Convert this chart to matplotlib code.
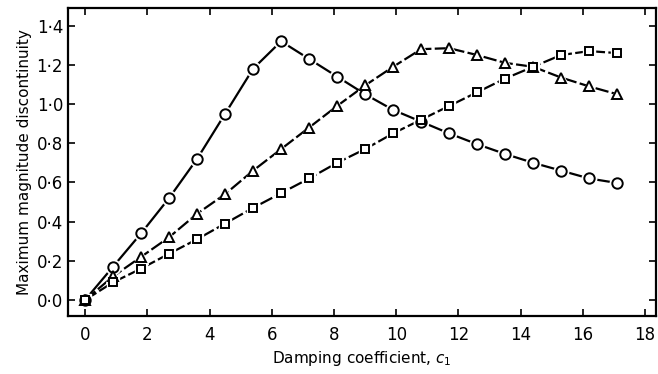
import matplotlib
matplotlib.use("Agg")
import matplotlib.pyplot as plt

c1 = [0, 0.9, 1.8, 2.7, 3.6, 4.5, 5.4, 6.3, 7.2, 8.1, 9.0, 9.9,
      10.8, 11.7, 12.6, 13.5, 14.4, 15.3, 16.2, 17.1]
circles = [0, 0.17, 0.34, 0.52, 0.72, 0.95, 1.18, 1.32, 1.23, 1.14, 1.05, 0.97,
           0.91, 0.85, 0.795, 0.745, 0.70, 0.66, 0.62, 0.597]
triangles = [0, 0.12, 0.22, 0.32, 0.44, 0.54, 0.66, 0.77, 0.88, 0.99, 1.095, 1.19,
             1.28, 1.285, 1.25, 1.21, 1.19, 1.135, 1.09, 1.05]
squares = [0, 0.09, 0.16, 0.236, 0.31, 0.39, 0.47, 0.545, 0.62, 0.70, 0.77, 0.85,
           0.92, 0.99, 1.06, 1.13, 1.19, 1.25, 1.27, 1.26]

xticks = [0, 2, 4, 6, 8, 10, 12, 14, 16, 18]
yticks = [0.0, 0.2, 0.4, 0.6, 0.8, 1.0, 1.2, 1.4]
ylabels = ["0·0", "0·2", "0·4", "0·6", "0·8", "1·0", "1·2", "1·4"]

plt.rcParams["font.family"] = ["DejaVu Sans"]
fig = plt.figure(figsize=(6.58, 3.74), dpi=100)
ax = fig.add_axes([0.1033, 0.155, 0.8937, 0.8236])

series = [
    (circles, "o", 7.5, "-"),
    (triangles, "^", 6.5, (0, (6, 1.5))),
    (squares, "s", 5.2, (0, (6, 1.5))),
]
for ys, mk, ms, ls in series:
    ax.plot(c1, ys, color="black", lw=1.6, ls=ls, zorder=2)
for ys, mk, ms, ls in series:
    # white halo so the lines stop short of the markers
    ax.plot(c1, ys, ls="none", marker=mk, ms=ms + 3, mfc="white",
            mec="white", zorder=3)
for ys, mk, ms, ls in series:
    ax.plot(c1, ys, ls="none", marker=mk, ms=ms, mfc="white",
            mec="black", mew=1.4, zorder=4)

ax.set_xlim(-0.55, 18.35)
ax.set_ylim(-0.082, 1.49)
ax.set_xticks(xticks)
ax.set_yticks(yticks)
ax.set_yticklabels(ylabels)
ax.tick_params(direction="in", length=5, width=1.2, top=True, right=True,
               labelsize=12)
ax.tick_params(axis="x", pad=7)
for s in ax.spines.values():
    s.set_linewidth(1.6)

ax.set_xlabel("Damping coefficient, $c_1$", fontsize=11)
ax.set_ylabel("Maximum magnitude discontinuity", fontsize=11, labelpad=3)

fig.savefig("out.png", dpi=100)
